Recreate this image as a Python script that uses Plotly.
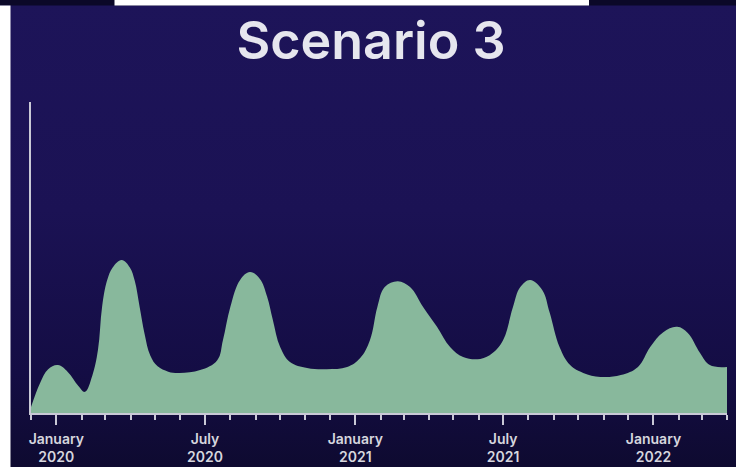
import base64
import plotly.graph_objects as go

# Modelled case curve for the third scenario (arbitrary units)
dates = [
    "2019-12-01", "2019-12-12", "2019-12-22", "2020-01-03", "2020-01-15",
    "2020-01-28", "2020-02-05", "2020-02-14", "2020-02-21", "2020-02-26",
    "2020-03-03", "2020-03-10", "2020-03-21", "2020-03-31", "2020-04-06",
    "2020-04-12", "2020-04-18", "2020-04-25", "2020-05-04", "2020-05-17",
    "2020-05-31", "2020-06-25", "2020-07-16", "2020-07-23", "2020-08-01",
    "2020-08-13", "2020-08-25", "2020-09-06", "2020-09-15", "2020-09-22",
    "2020-10-01", "2020-10-13", "2020-11-03", "2020-11-27", "2020-12-22",
    "2021-01-07", "2021-01-19", "2021-01-28", "2021-02-06", "2021-02-22",
    "2021-03-09", "2021-03-25", "2021-04-11", "2021-04-27", "2021-05-13",
    "2021-06-03", "2021-06-18", "2021-07-01", "2021-07-13", "2021-07-22",
    "2021-08-03", "2021-08-18", "2021-08-27", "2021-09-08", "2021-09-21",
    "2021-10-07", "2021-10-28", "2021-11-22", "2021-12-13", "2021-12-28",
    "2022-01-13", "2022-01-30", "2022-02-12", "2022-02-27", "2022-03-11",
    "2022-04-01",
]
cases = [
    1.9, 9.6, 14.1, 15.4, 13.2,
    8.7, 6.8, 12.0, 20.3, 34.1,
    42.5, 46.8, 49.2, 46.8, 42.5,
    34.1, 25.5, 18.5, 15.0, 13.3,
    12.9, 13.8, 17.0, 23.5, 34.1,
    42.8, 45.3, 43.2, 37.5, 30.0,
    21.2, 16.4, 14.5, 14.1, 14.8,
    17.7, 23.5, 34.1, 40.5, 42.4,
    40.5, 34.1, 27.7, 21.2, 18.0,
    17.4, 19.3, 23.5, 34.1, 40.5,
    42.8, 39.5, 32.2, 21.2, 15.4,
    12.9, 11.6, 12.2, 14.8, 21.2,
    26.0, 27.7, 25.7, 19.3, 15.4,
    14.8,
]

tick_dates = ["2020-01-01", "2020-07-01", "2021-01-01", "2021-07-01", "2022-01-01"]
tick_labels = ["January<br>2020", "July<br>2020", "January<br>2021", "July<br>2021", "January<br>2022"]

BG = "#1b1254"
FILL = "#88b89c"
AXIS = "#c9c9d6"
TEXT = "#d6d6de"

W, H = 736, 467
L, R, T, B = 31, 9, 102, 54
pw, ph = W - L - R, H - T - B


def px_x(x):
    return (x - L) / pw


def px_y(y):
    return 1 - (y - T) / ph


# soft vertical backdrop: slightly brighter indigo on top, darker at the bottom
backdrop_svg = (
    '<svg xmlns="http://www.w3.org/2000/svg" width="100" height="100" preserveAspectRatio="none">'
    '<defs><linearGradient id="g" x1="0" y1="0" x2="0" y2="1">'
    '<stop offset="0" stop-color="#1d1459"/>'
    '<stop offset="0.45" stop-color="#1b1254"/>'
    '<stop offset="0.8" stop-color="#140d44"/>'
    '<stop offset="1" stop-color="#0e0a30"/>'
    '</linearGradient></defs>'
    '<rect width="100" height="100" fill="url(#g)"/></svg>'
)
backdrop_src = "data:image/svg+xml;base64," + base64.b64encode(backdrop_svg.encode()).decode()

fig = go.Figure()
fig.add_trace(go.Scatter(
    x=dates, y=cases,
    mode="lines",
    line=dict(width=0, shape="spline", smoothing=1.1, color=FILL),
    fill="tozeroy",
    fillcolor=FILL,
    hoverinfo="skip",
))

# frame strips around the slide
shapes = [
    dict(type="rect", xref="paper", yref="paper", layer="above",
         x0=px_x(0), x1=px_x(W), y0=px_y(0), y1=px_y(5.5),
         fillcolor="#0b0828", line=dict(width=0)),
    dict(type="rect", xref="paper", yref="paper", layer="above",
         x0=px_x(114.5), x1=px_x(589), y0=px_y(0), y1=px_y(5.5),
         fillcolor="#ffffff", line=dict(width=0)),
    dict(type="rect", xref="paper", yref="paper", layer="above",
         x0=px_x(0), x1=px_x(10.5), y0=px_y(5.5), y1=px_y(H),
         fillcolor="#ffffff", line=dict(width=0)),
]

fig.update_layout(
    width=W, height=H,
    margin=dict(l=L, r=R, t=T, b=B, pad=0, autoexpand=False),
    paper_bgcolor=BG, plot_bgcolor="rgba(0,0,0,0)",
    showlegend=False,
    shapes=shapes,
    images=[dict(
        source=backdrop_src, xref="paper", yref="paper",
        x=px_x(0), y=px_y(0), sizex=W / pw, sizey=H / ph,
        xanchor="left", yanchor="top", sizing="stretch", layer="below",
    )],
    title=dict(
        text="Scenario 3",
        x=371 / W, xref="container", xanchor="center",
        y=1 - 41 / H, yref="container", yanchor="middle",
        automargin=False,
        font=dict(family="Inter, Open Sans, sans-serif", size=52, color="#e6e6ee", weight=600),
    ),
    xaxis=dict(
        type="date",
        range=["2019-12-01", "2022-04-01"],
        automargin=False,
        tickmode="array", tickvals=tick_dates, ticktext=tick_labels,
        ticks="outside", ticklen=10, tickwidth=1.5, tickcolor=AXIS,
        ticklabelstandoff=2,
        minor=dict(dtick="M1", tick0="2019-12-01", ticks="outside",
                   ticklen=5, tickwidth=1.5, tickcolor=AXIS, showgrid=False),
        showline=True, linecolor=AXIS, linewidth=2,
        showgrid=False, zeroline=False,
        tickfont=dict(family="Inter, Open Sans, sans-serif", size=14, color=TEXT, weight=600),
        fixedrange=True,
    ),
    yaxis=dict(
        range=[0, 100],
        automargin=False,
        showticklabels=False, ticks="",
        showline=True, linecolor=AXIS, linewidth=2,
        showgrid=False, zeroline=False,
        fixedrange=True,
    ),
)

fig.write_html("out.html")
